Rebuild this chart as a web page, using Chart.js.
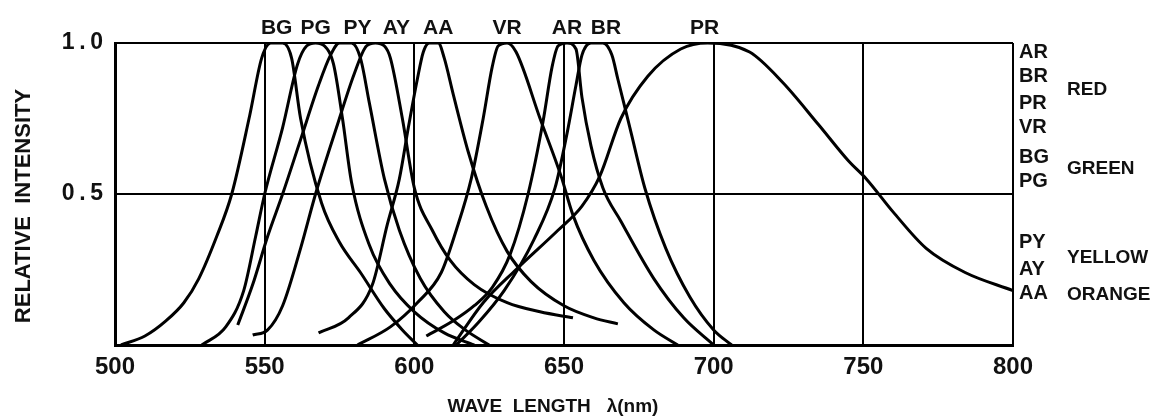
<!DOCTYPE html>
<html>
<head>
<meta charset="utf-8">
<script src="https://cdn.jsdelivr.net/npm/chart.js@4.4.0/dist/chart.umd.min.js"></script>
<style>
  html, body { margin: 0; padding: 0; background: #fff; }
  #wrap { width: 1160px; height: 417px; }
</style>
</head>
<body>
<div id="wrap"><canvas id="spectrum" width="1160" height="417"></canvas></div>
<script>
// Spectral curves, [wavelength nm, relative intensity]
const BG = [[502,0],[510,0.03],[517,0.08],[523,0.14],[528,0.22],[534,0.36],[539,0.5],[545,0.76],[549,0.95],[552,1.0],[556,1.0],[559,0.95],[562,0.75],[569,0.47],[575,0.34],[582,0.24],[590,0.12],[596,0.05],[601,0]];
const PG = [[529,0],[537,0.06],[543,0.18],[547,0.36],[550,0.5],[556,0.72],[561,0.93],[564,0.99],[567,1.0],[570,0.99],[573,0.93],[576,0.75],[579,0.54],[585,0.33],[592,0.2],[600,0.11],[610,0.04],[620,0]];
const PY = [[541,0.066],[546,0.2],[551,0.36],[556,0.5],[562,0.68],[568,0.86],[572,0.96],[575,1.0],[579,1.0],[582,0.95],[585,0.8],[590,0.55],[595,0.38],[602,0.22],[610,0.11],[617,0.05],[625,0]];
const AY = [[546,0.033],[551,0.05],[556,0.13],[562,0.32],[567,0.5],[574,0.72],[580,0.9],[584,0.99],[587,1.0],[590,0.99],[592,0.95],[596,0.75],[600,0.52],[606,0.38],[612,0.28],[620,0.2],[631,0.14],[642,0.11],[653,0.09]];
const AA = [[568,0.04],[578,0.09],[586,0.2],[591,0.4],[595,0.55],[598,0.72],[601,0.88],[603,0.97],[605,1.0],[608,1.0],[610,0.95],[613,0.83],[618,0.64],[624,0.46],[631,0.31],[639,0.21],[650,0.13],[660,0.09],[668,0.07]];
const VR = [[581,0],[592,0.06],[601,0.14],[609,0.24],[614,0.38],[619,0.55],[623,0.75],[626,0.92],[628,0.99],[631,1.0],[634,0.97],[642,0.75],[649,0.56],[653,0.43],[660,0.28],[670,0.14],[680,0.05],[688,0]];
const AR = [[604,0.03],[613,0.08],[620,0.13],[626,0.19],[632,0.3],[638,0.5],[643,0.74],[646,0.92],[648,0.99],[651,1.0],[654,0.98],[656,0.82],[659,0.66],[663,0.52],[669,0.41],[680,0.22],[690,0.09],[700,0]];
const BR = [[614,0],[621,0.07],[630,0.18],[640,0.35],[647,0.52],[651,0.7],[654,0.86],[656,0.96],[659,1.0],[663,1.0],[666,0.96],[668,0.88],[672,0.72],[677,0.52],[684,0.32],[692,0.16],[700,0.05],[706,0]];
const PR = [[613,0],[623,0.14],[634,0.25],[648,0.38],[656,0.46],[662,0.56],[669,0.75],[678,0.89],[689,0.98],[698,1.0],[712,0.97],[723,0.87],[735,0.73],[745,0.61],[751,0.55],[760,0.44],[771,0.32],[784,0.24],[800,0.18]];

const seriesNames = ["BG", "PG", "PY", "AY", "AA", "VR", "AR", "BR", "PR"];
const seriesData = [BG, PG, PY, AY, AA, VR, AR, BR, PR];
const peakLabelNm = [554, 567, 581, 594, 608, 631, 651, 664, 697];

const xTicks = [500, 550, 600, 650, 700, 750, 800];
const yTicks = [0, 0.5, 1.0];

// right-hand key
const keyCodes = ["AR", "BR", "PR", "VR", "BG", "PG", "PY", "AY", "AA"];
const keyCodeLevel = [0.97, 0.89, 0.80, 0.72, 0.62, 0.54, 0.34, 0.25, 0.17];
const keyGroups = ["RED", "GREEN", "YELLOW", "ORANGE"];
const keyGroupLevel = [0.845, 0.585, 0.29, 0.165];

const FONT = "'Liberation Sans', Arial, Helvetica, sans-serif";

const textPlugin = {
  id: "annotations",
  afterDraw(chart) {
    const { ctx, scales: { x, y } } = chart;
    ctx.save();
    ctx.fillStyle = "#111";
    ctx.textBaseline = "middle";

    // labels above the peaks
    ctx.font = "bold 21px " + FONT;
    ctx.textAlign = "center";
    seriesNames.forEach((name, i) => {
      ctx.fillText(name, x.getPixelForValue(peakLabelNm[i]), 28);
    });

    // key on the right
    ctx.textAlign = "left";
    ctx.font = "bold 20px " + FONT;
    keyCodes.forEach((code, i) => {
      ctx.fillText(code, 1019, y.getPixelForValue(keyCodeLevel[i]));
    });
    ctx.font = "bold 19px " + FONT;
    keyGroups.forEach((g, i) => {
      ctx.fillText(g, 1067, y.getPixelForValue(keyGroupLevel[i]));
    });

    // axis titles
    ctx.textAlign = "center";
    ctx.font = "bold 19px " + FONT;
    ctx.fillText("WAVE  LENGTH   \u03bb(nm)", 553, 407);

    ctx.translate(24, 206);
    ctx.rotate(-Math.PI / 2);
    ctx.font = "bold 22px " + FONT;
    ctx.fillText("RELATIVE  INTENSITY", 0, 0);
    ctx.restore();
  },
};

const ctx = document.getElementById("spectrum").getContext("2d");
new Chart(ctx, {
  type: "line",
  data: {
    datasets: seriesData.map((pts, i) => ({
      label: seriesNames[i],
      data: pts.map(([nm, v]) => ({ x: nm, y: v })),
      borderColor: "#000",
      borderWidth: 3,
      pointRadius: 0,
      fill: false,
      cubicInterpolationMode: "monotone",
    })),
  },
  options: {
    responsive: false,
    animation: false,
    layout: { padding: { left: 0, right: 147, top: 43, bottom: 0 } },
    plugins: {
      legend: { display: false },
      tooltip: { enabled: false },
    },
    scales: {
      x: {
        type: "linear",
        min: 500,
        max: 800,
        afterBuildTicks: (scale) => {
          scale.ticks = xTicks.map((v) => ({ value: v }));
        },
        afterFit: (scale) => {
          scale.height = 72;
        },
        grid: { color: "#000", lineWidth: 2, drawTicks: false },
        border: { color: "#000", width: 3 },
        ticks: {
          color: "#111",
          padding: 8,
          font: { family: FONT, size: 24, weight: "bold" },
        },
      },
      y: {
        type: "linear",
        min: 0,
        max: 1,
        afterBuildTicks: (scale) => {
          scale.ticks = yTicks.map((v) => ({ value: v }));
        },
        afterFit: (scale) => {
          scale.width = 115;
        },
        grid: { color: "#000", lineWidth: 2, drawTicks: false },
        border: { color: "#000", width: 3 },
        ticks: {
          color: "#111",
          padding: 12,
          font: { family: FONT, size: 23, weight: "bold" },
          callback: (v) => (v === 0 ? "" : v.toFixed(1).replace(".", "\u2009.\u2009")),
        },
      },
    },
  },
  plugins: [textPlugin],
});
</script>
</body>
</html>
